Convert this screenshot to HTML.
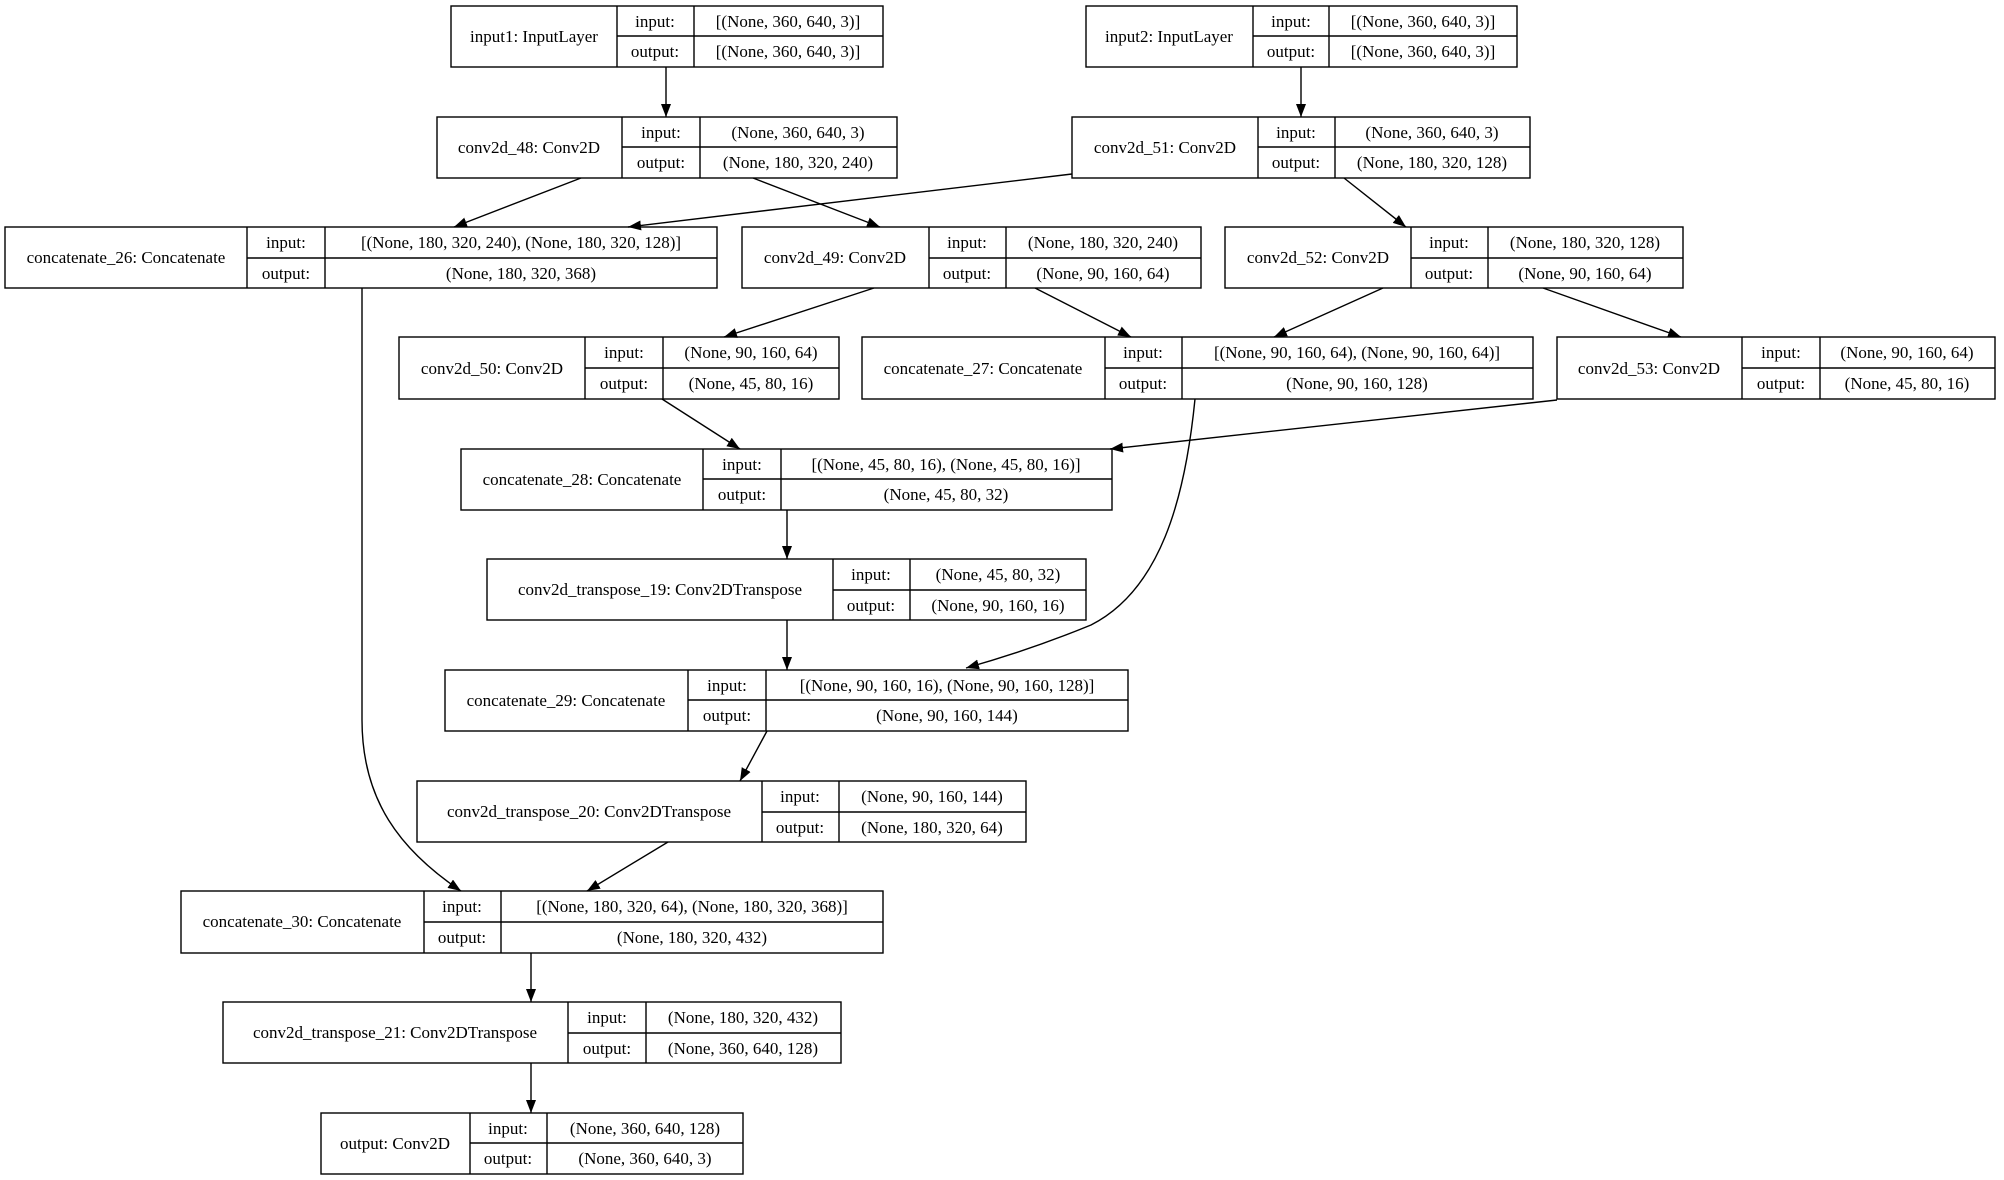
<!DOCTYPE html>
<html><head><meta charset="utf-8"><style>
html,body{margin:0;padding:0;background:#fff;}
svg{display:block;}
text{font-family:"Liberation Serif",serif;font-size:17px;fill:#000;}
</style></head><body>
<svg width="2004" height="1180" viewBox="0 0 2004 1180" xmlns="http://www.w3.org/2000/svg">
<defs>
<marker id="a" markerUnits="userSpaceOnUse" markerWidth="14" markerHeight="12" refX="13" refY="5" orient="auto">
<path d="M0,0 L13,5 L0,10 z" fill="#000"/>
</marker>
</defs>
<g fill="none" stroke="#000" stroke-width="1.4" marker-end="url(#a)">
<line x1="666" y1="67" x2="666" y2="117"/>
<line x1="1301" y1="67" x2="1301" y2="117"/>
<line x1="581" y1="178" x2="454" y2="227"/>
<line x1="1072" y1="174" x2="628" y2="227"/>
<line x1="753" y1="178" x2="880" y2="227"/>
<line x1="1344" y1="178" x2="1406" y2="227"/>
<line x1="874" y1="288" x2="724" y2="337"/>
<line x1="1035" y1="288" x2="1131" y2="337"/>
<line x1="1383" y1="288" x2="1274" y2="337"/>
<line x1="1543" y1="288" x2="1681" y2="337"/>
<line x1="662" y1="399" x2="740" y2="449"/>
<line x1="1557" y1="400" x2="1110" y2="449"/>
<line x1="787" y1="510" x2="787" y2="559"/>
<line x1="787" y1="620" x2="787" y2="670"/>
<path d="M1195,399 C1185,500 1160,590 1091,625 Q1030,650 966,668"/>
<line x1="767" y1="731" x2="740" y2="781"/>
<path d="M362,288 L362,720 C362,800 400,850 461,891"/>
<line x1="668" y1="842" x2="587" y2="891"/>
<line x1="531" y1="953" x2="531" y2="1002"/>
<line x1="531" y1="1063" x2="531" y2="1113"/>
</g>
<g id="nodes" fill="#fff" stroke="#000" stroke-width="1.4"></g>
<g text-anchor="middle">
<!-- node helper output below -->
</g>
<g fill="none" stroke="#000" stroke-width="1.4">
<!-- input1 -->
<rect x="451" y="6" width="432" height="61"/><line x1="617" y1="6" x2="617" y2="67"/><line x1="694" y1="6" x2="694" y2="67"/><line x1="617" y1="36" x2="883" y2="36"/>
<!-- input2 -->
<rect x="1086" y="6" width="431" height="61"/><line x1="1253" y1="6" x2="1253" y2="67"/><line x1="1329" y1="6" x2="1329" y2="67"/><line x1="1253" y1="36" x2="1517" y2="36"/>
<!-- conv48 -->
<rect x="437" y="117" width="460" height="61"/><line x1="622" y1="117" x2="622" y2="178"/><line x1="700" y1="117" x2="700" y2="178"/><line x1="622" y1="147" x2="897" y2="147"/>
<!-- conv51 -->
<rect x="1072" y="117" width="458" height="61"/><line x1="1258" y1="117" x2="1258" y2="178"/><line x1="1335" y1="117" x2="1335" y2="178"/><line x1="1258" y1="147" x2="1530" y2="147"/>
<!-- concat26 -->
<rect x="5" y="227" width="712" height="61"/><line x1="247" y1="227" x2="247" y2="288"/><line x1="325" y1="227" x2="325" y2="288"/><line x1="247" y1="258" x2="717" y2="258"/>
<!-- conv49 -->
<rect x="742" y="227" width="459" height="61"/><line x1="929" y1="227" x2="929" y2="288"/><line x1="1006" y1="227" x2="1006" y2="288"/><line x1="929" y1="258" x2="1201" y2="258"/>
<!-- conv52 -->
<rect x="1225" y="227" width="458" height="61"/><line x1="1411" y1="227" x2="1411" y2="288"/><line x1="1488" y1="227" x2="1488" y2="288"/><line x1="1411" y1="258" x2="1683" y2="258"/>
<!-- conv50 -->
<rect x="399" y="337" width="440" height="62"/><line x1="585" y1="337" x2="585" y2="399"/><line x1="663" y1="337" x2="663" y2="399"/><line x1="585" y1="368" x2="839" y2="368"/>
<!-- concat27 -->
<rect x="862" y="337" width="671" height="62"/><line x1="1105" y1="337" x2="1105" y2="399"/><line x1="1182" y1="337" x2="1182" y2="399"/><line x1="1105" y1="368" x2="1533" y2="368"/>
<!-- conv53 -->
<rect x="1557" y="337" width="438" height="62"/><line x1="1742" y1="337" x2="1742" y2="399"/><line x1="1820" y1="337" x2="1820" y2="399"/><line x1="1742" y1="368" x2="1995" y2="368"/>
<!-- concat28 -->
<rect x="461" y="449" width="651" height="61"/><line x1="703" y1="449" x2="703" y2="510"/><line x1="781" y1="449" x2="781" y2="510"/><line x1="703" y1="479" x2="1112" y2="479"/>
<!-- t19 -->
<rect x="487" y="559" width="599" height="61"/><line x1="833" y1="559" x2="833" y2="620"/><line x1="910" y1="559" x2="910" y2="620"/><line x1="833" y1="590" x2="1086" y2="590"/>
<!-- concat29 -->
<rect x="445" y="670" width="683" height="61"/><line x1="688" y1="670" x2="688" y2="731"/><line x1="766" y1="670" x2="766" y2="731"/><line x1="688" y1="700" x2="1128" y2="700"/>
<!-- t20 -->
<rect x="417" y="781" width="609" height="61"/><line x1="762" y1="781" x2="762" y2="842"/><line x1="839" y1="781" x2="839" y2="842"/><line x1="762" y1="812" x2="1026" y2="812"/>
<!-- concat30 -->
<rect x="181" y="891" width="702" height="62"/><line x1="424" y1="891" x2="424" y2="953"/><line x1="501" y1="891" x2="501" y2="953"/><line x1="424" y1="922" x2="883" y2="922"/>
<!-- t21 -->
<rect x="223" y="1002" width="618" height="61"/><line x1="568" y1="1002" x2="568" y2="1063"/><line x1="646" y1="1002" x2="646" y2="1063"/><line x1="568" y1="1033" x2="841" y2="1033"/>
<!-- output -->
<rect x="321" y="1113" width="422" height="61"/><line x1="470" y1="1113" x2="470" y2="1174"/><line x1="547" y1="1113" x2="547" y2="1174"/><line x1="470" y1="1143" x2="743" y2="1143"/>
</g>
<g text-anchor="middle">
<text x="534" y="42">input1: InputLayer</text><text x="655" y="27">input:</text><text x="655" y="57">output:</text><text x="788" y="27">[(None, 360, 640, 3)]</text><text x="788" y="57">[(None, 360, 640, 3)]</text>
<text x="1169" y="42">input2: InputLayer</text><text x="1291" y="27">input:</text><text x="1291" y="57">output:</text><text x="1423" y="27">[(None, 360, 640, 3)]</text><text x="1423" y="57">[(None, 360, 640, 3)]</text>
<text x="529" y="153">conv2d_48: Conv2D</text><text x="661" y="138">input:</text><text x="661" y="168">output:</text><text x="798" y="138">(None, 360, 640, 3)</text><text x="798" y="168">(None, 180, 320, 240)</text>
<text x="1165" y="153">conv2d_51: Conv2D</text><text x="1296" y="138">input:</text><text x="1296" y="168">output:</text><text x="1432" y="138">(None, 360, 640, 3)</text><text x="1432" y="168">(None, 180, 320, 128)</text>
<text x="126" y="263">concatenate_26: Concatenate</text><text x="286" y="248">input:</text><text x="286" y="279">output:</text><text x="521" y="248">[(None, 180, 320, 240), (None, 180, 320, 128)]</text><text x="521" y="279">(None, 180, 320, 368)</text>
<text x="835" y="263">conv2d_49: Conv2D</text><text x="967" y="248">input:</text><text x="967" y="279">output:</text><text x="1103" y="248">(None, 180, 320, 240)</text><text x="1103" y="279">(None, 90, 160, 64)</text>
<text x="1318" y="263">conv2d_52: Conv2D</text><text x="1449" y="248">input:</text><text x="1449" y="279">output:</text><text x="1585" y="248">(None, 180, 320, 128)</text><text x="1585" y="279">(None, 90, 160, 64)</text>
<text x="492" y="374">conv2d_50: Conv2D</text><text x="624" y="358">input:</text><text x="624" y="389">output:</text><text x="751" y="358">(None, 90, 160, 64)</text><text x="751" y="389">(None, 45, 80, 16)</text>
<text x="983" y="374">concatenate_27: Concatenate</text><text x="1143" y="358">input:</text><text x="1143" y="389">output:</text><text x="1357" y="358">[(None, 90, 160, 64), (None, 90, 160, 64)]</text><text x="1357" y="389">(None, 90, 160, 128)</text>
<text x="1649" y="374">conv2d_53: Conv2D</text><text x="1781" y="358">input:</text><text x="1781" y="389">output:</text><text x="1907" y="358">(None, 90, 160, 64)</text><text x="1907" y="389">(None, 45, 80, 16)</text>
<text x="582" y="485">concatenate_28: Concatenate</text><text x="742" y="470">input:</text><text x="742" y="500">output:</text><text x="946" y="470">[(None, 45, 80, 16), (None, 45, 80, 16)]</text><text x="946" y="500">(None, 45, 80, 32)</text>
<text x="660" y="595">conv2d_transpose_19: Conv2DTranspose</text><text x="871" y="580">input:</text><text x="871" y="611">output:</text><text x="998" y="580">(None, 45, 80, 32)</text><text x="998" y="611">(None, 90, 160, 16)</text>
<text x="566" y="706">concatenate_29: Concatenate</text><text x="727" y="691">input:</text><text x="727" y="721">output:</text><text x="947" y="691">[(None, 90, 160, 16), (None, 90, 160, 128)]</text><text x="947" y="721">(None, 90, 160, 144)</text>
<text x="589" y="817">conv2d_transpose_20: Conv2DTranspose</text><text x="800" y="802">input:</text><text x="800" y="833">output:</text><text x="932" y="802">(None, 90, 160, 144)</text><text x="932" y="833">(None, 180, 320, 64)</text>
<text x="302" y="927">concatenate_30: Concatenate</text><text x="462" y="912">input:</text><text x="462" y="943">output:</text><text x="692" y="912">[(None, 180, 320, 64), (None, 180, 320, 368)]</text><text x="692" y="943">(None, 180, 320, 432)</text>
<text x="395" y="1038">conv2d_transpose_21: Conv2DTranspose</text><text x="607" y="1023">input:</text><text x="607" y="1054">output:</text><text x="743" y="1023">(None, 180, 320, 432)</text><text x="743" y="1054">(None, 360, 640, 128)</text>
<text x="395" y="1149">output: Conv2D</text><text x="508" y="1134">input:</text><text x="508" y="1164">output:</text><text x="645" y="1134">(None, 360, 640, 128)</text><text x="645" y="1164">(None, 360, 640, 3)</text>
</g>
</svg>
</body></html>
